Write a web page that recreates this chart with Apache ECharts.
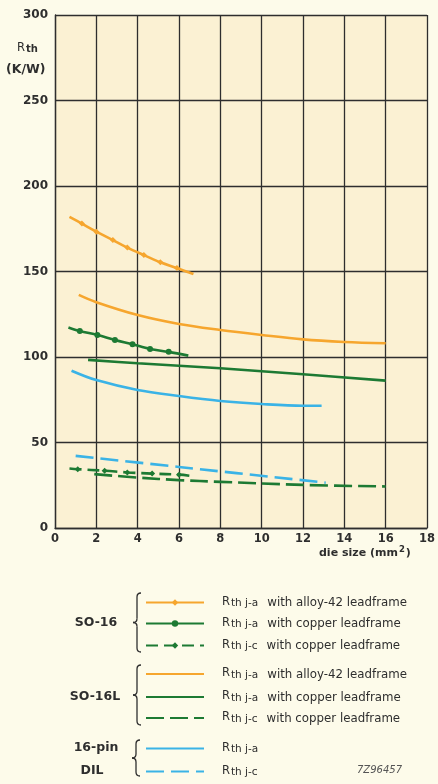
<!DOCTYPE html>
<html><head><meta charset="utf-8">
<script src="https://cdn.jsdelivr.net/npm/echarts/dist/echarts.min.js"></script>
<style>html,body{margin:0;padding:0;background:#fdfbea;}#c{width:438px;height:784px;}</style>
</head><body><div id="c"></div>
<script>
// ---- axis ticks ----
const xTicks = [0, 2, 4, 6, 8, 10, 12, 14, 16, 18];
const yTicks = [0, 50, 100, 150, 200, 250, 300];

// ---- series data (die size mm², Rth K/W) ----
const so16AlloyJaX = [0.7, 1.3, 2.0, 2.8, 3.5, 4.3, 5.1, 5.9, 6.7];
const so16AlloyJaY = [182, 178, 173.3, 168.4, 164, 159.6, 155.4, 152, 148.5];

const so16CopperJaX = [0.65, 1.2, 2.05, 2.9, 3.75, 4.6, 5.5, 6.45];
const so16CopperJaY = [117.3, 115.2, 112.9, 110, 107.4, 104.7, 103, 100.8];

const so16CopperJcX = [0.7, 1.1, 2.4, 3.5, 4.7, 6.0, 6.5];
const so16CopperJcY = [34.8, 34.4, 33.5, 32.5, 31.8, 31.2, 30.6];

const so16lAlloyJaX = [1.15, 2, 4, 6, 8, 10, 12, 14, 16];
const so16lAlloyJaY = [136.3, 132, 124.5, 119.3, 115.8, 112.9, 110.3, 108.8, 108];

const so16lCopperJaX = [1.6, 4, 8, 12, 16];
const so16lCopperJaY = [98.3, 96.3, 93.4, 89.9, 86.2];

const so16lCopperJcX = [1.9, 4, 6, 8, 12, 16];
const so16lCopperJcY = [31.5, 29.5, 28, 27, 25.2, 24.3];

const dilJaX = [0.8, 2, 4, 6, 8, 10, 12, 12.9];
const dilJaY = [92, 86.5, 80.7, 77.2, 74.3, 72.5, 71.5, 71.5];

const dilJcX = [1.0, 6, 13.1];
const dilJcY = [42.2, 35.7, 26.5];

// ---- legend texts ----
const legendSubs = ['th j-a', 'th j-a', 'th j-c', 'th j-a', 'th j-a', 'th j-c', 'th j-a', 'th j-c'];
const legendSuffix = ['with alloy-42 leadframe', 'with copper leadframe', 'with copper leadframe',
  'with alloy-42 leadframe', 'with copper leadframe', 'with copper leadframe', '', ''];
const groupLabels = ['SO-16', 'SO-16L', '16-pin', 'DIL'];

const ORANGE = '#f6a62e', GREEN = '#1d7a33', BLUE = '#3ab3e6', INK = '#2e2e2e';

const defs = [
  {name: 'SO-16 Rth j-a alloy-42', x: so16AlloyJaX, y: so16AlloyJaY, color: ORANGE, dash: 'solid', marker: 'diamond', row: 602.5},
  {name: 'SO-16 Rth j-a copper', x: so16CopperJaX, y: so16CopperJaY, color: GREEN, dash: 'solid', marker: 'circle', row: 623.5},
  {name: 'SO-16 Rth j-c copper', x: so16CopperJcX, y: so16CopperJcY, color: GREEN, dash: [12, 6], marker: 'diamond', row: 645.5},
  {name: 'SO-16L Rth j-a alloy-42', x: so16lAlloyJaX, y: so16lAlloyJaY, color: ORANGE, dash: 'solid', marker: 'none', row: 674},
  {name: 'SO-16L Rth j-a copper', x: so16lCopperJaX, y: so16lCopperJaY, color: GREEN, dash: 'solid', marker: 'none', row: 697},
  {name: 'SO-16L Rth j-c copper', x: so16lCopperJcX, y: so16lCopperJcY, color: GREEN, dash: [18, 6], marker: 'none', row: 718},
  {name: 'DIL Rth j-a', x: dilJaX, y: dilJaY, color: BLUE, dash: 'solid', marker: 'none', row: 748},
  {name: 'DIL Rth j-c', x: dilJcX, y: dilJcY, color: BLUE, dash: [18, 7], marker: 'none', row: 771}
];

const labelMap = {};
defs.forEach((d, i) => {
  labelMap[d.name] = '{r|R}{s|' + legendSubs[i] + '}' + (legendSuffix[i] ? '{t|' + legendSuffix[i] + '}' : '');
});

const legendRich = {
  r: {fontFamily: 'DejaVu Sans', fontSize: 11.5, color: INK, padding: [0, 0, 0, 13], verticalAlign: 'top', lineHeight: 12},
  s: {fontFamily: 'DejaVu Sans', fontSize: 10.5, color: INK, padding: [7, 7, 0, 1], verticalAlign: 'bottom', lineHeight: 11},
  t: {fontFamily: 'DejaVu Sans', fontSize: 11.8, color: INK, padding: [1, 0, 0, 2], verticalAlign: 'top', lineHeight: 13}
};

const series = defs.map(d => {
  const n = d.x.length;
  return {
    name: d.name,
    type: 'line',
    data: d.x.map((v, i) => [v, d.y[i]]),
    smooth: 0.35,
    symbol: d.marker,
    showSymbol: d.marker !== 'none',
    symbolSize: (val, p) => (p.dataIndex === 0 || p.dataIndex === n - 1) ? 0 : 6,
    lineStyle: {color: d.color, width: 2.6, type: d.dash},
    itemStyle: {color: d.color},
    emphasis: {disabled: true},
    animation: false
  };
});

const legends = defs.map(d => {
  const lg = {
    data: [d.name],
    left: 145,
    top: d.row - 11.5,
    padding: 0,
    itemWidth: 58,
    itemHeight: 8,
    selectedMode: false,
    formatter: name => labelMap[name],
    textStyle: {rich: legendRich}
  };
  if (d.marker === 'none') {
    lg.itemStyle = {color: 'rgba(0,0,0,0)', borderWidth: 0, opacity: 0};
  }
  return lg;
});

function brace(x, y1, y2) {
  const m = (y1 + y2) / 2, r = 4;
  const st = {stroke: INK, fill: null, lineWidth: 1.3};
  return [
    {type: 'bezierCurve', shape: {x1: x + r, y1: y1, cpx1: x, cpy1: y1, x2: x, y2: y1 + r}, style: st},
    {type: 'line', shape: {x1: x, y1: y1 + r, x2: x, y2: m - r}, style: st},
    {type: 'bezierCurve', shape: {x1: x, y1: m - r, cpx1: x, cpy1: m, x2: x - r, y2: m}, style: st},
    {type: 'bezierCurve', shape: {x1: x - r, y1: m, cpx1: x, cpy1: m, x2: x, y2: m + r}, style: st},
    {type: 'line', shape: {x1: x, y1: m + r, x2: x, y2: y2 - r}, style: st},
    {type: 'bezierCurve', shape: {x1: x, y1: y2 - r, cpx1: x, cpy1: y2, x2: x + r, y2: y2}, style: st}
  ];
}

const lblStyle = {fontFamily: 'DejaVu Sans', fontWeight: 'bold', fontSize: 12.5, fill: INK, align: 'center', verticalAlign: 'middle'};

const chart = echarts.init(document.getElementById('c'), null, {renderer: 'canvas'});
chart.setOption({
  backgroundColor: '#fdfbea',
  animation: false,
  grid: {left: 55, right: 6, top: 15, bottom: 256, show: true, backgroundColor: '#fbf1d3', borderWidth: 0},
  xAxis: {
    type: 'value', min: xTicks[0], max: xTicks[xTicks.length - 1], interval: 2,
    axisLine: {show: true, lineStyle: {color: INK, width: 1.3}},
    axisTick: {show: false},
    splitLine: {show: true, lineStyle: {color: INK, width: 1.3}},
    axisLabel: {margin: 5, fontFamily: 'DejaVu Sans', fontWeight: 'bold', fontSize: 11.5, color: INK,
      formatter: v => xTicks.includes(v) ? String(v) : ''}
  },
  yAxis: {
    type: 'value', min: yTicks[0], max: yTicks[yTicks.length - 1], interval: 50,
    axisLine: {show: true, lineStyle: {color: INK, width: 1.3}},
    axisTick: {show: false},
    splitLine: {show: true, lineStyle: {color: INK, width: 1.3}},
    axisLabel: {margin: 7, fontFamily: 'DejaVu Sans', fontWeight: 'bold', fontSize: 12, color: INK,
      formatter: v => yTicks.includes(v) ? String(v) : ''}
  },
  legend: legends,
  series: series,
  graphic: [
    {type: 'text', left: 17, top: 38, style: {text: '{r|R}{s|th}', rich: {
      r: {fontFamily: 'DejaVu Sans', fontSize: 11.5, fill: INK, verticalAlign: 'top', lineHeight: 12},
      s: {fontFamily: 'DejaVu Sans', fontSize: 10, fontWeight: 'bold', fill: INK, verticalAlign: 'bottom', lineHeight: 11, padding: [6, 0, 0, 1]}
    }}},
    {type: 'text', left: 6, top: 63, style: {text: '(K/W)', fontFamily: 'DejaVu Sans', fontWeight: 'bold', fontSize: 12.5, fill: INK}},
    {type: 'text', left: 319, top: 545, style: {text: '{a|die size (mm}{p|2}{a|)}', rich: {
      a: {fontFamily: 'DejaVu Sans', fontWeight: 'bold', fontSize: 11, fill: INK, verticalAlign: 'bottom', lineHeight: 14},
      p: {fontFamily: 'DejaVu Sans', fontWeight: 'bold', fontSize: 8.5, fill: INK, verticalAlign: 'top', lineHeight: 9, padding: [0, 1, 4, 1]}
    }}},
    {type: 'text', style: Object.assign({x: 96, y: 623, text: groupLabels[0]}, lblStyle)},
    {type: 'text', style: Object.assign({x: 95, y: 697, text: groupLabels[1]}, lblStyle)},
    {type: 'text', style: Object.assign({x: 96, y: 748, text: groupLabels[2]}, lblStyle)},
    {type: 'text', style: Object.assign({x: 92, y: 771, text: groupLabels[3]}, lblStyle)},
    ...brace(137, 593, 652),
    ...brace(137, 665, 725),
    ...brace(136, 740, 776),
    {type: 'text', left: 357, top: 765, style: {text: '7Z96457', fontFamily: 'DejaVu Sans', fontStyle: 'italic', fontSize: 10, fill: '#555'}}
  ]
});
</script></body></html>
